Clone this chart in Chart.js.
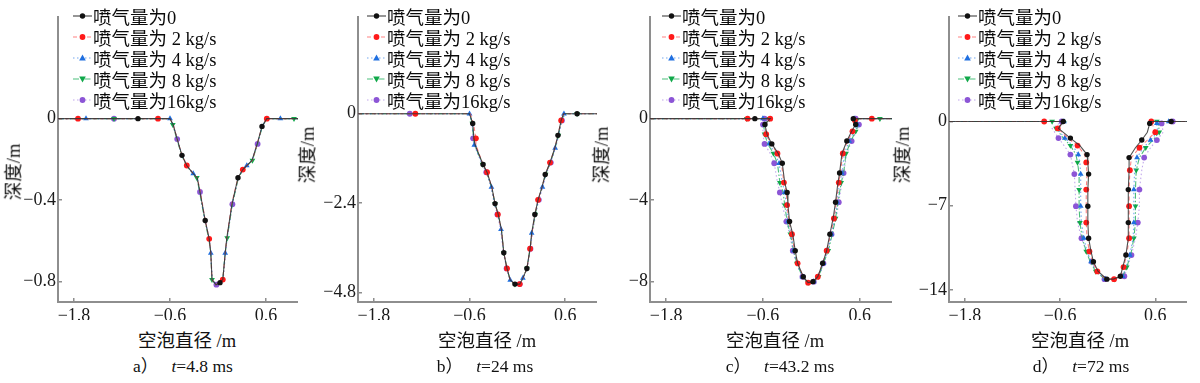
<!DOCTYPE html>
<html><head><meta charset="utf-8">
<script src="https://cdn.jsdelivr.net/npm/chart.js@4.4.1/dist/chart.umd.min.js"></script>
<style>
html,body{margin:0;padding:0;background:#fff;}
#wrap{position:relative;width:1200px;height:383px;overflow:hidden;background:#fff;}
canvas{position:absolute;top:0;}
.t{position:absolute;white-space:nowrap;font-family:'Liberation Serif','Noto Sans CJK SC',serif;color:#111;line-height:1;}
.leg{position:absolute;top:6px;font-family:'Liberation Serif','Noto Sans CJK SC',serif;font-size:18.5px;color:#0a0a0a;}
.leg .row{height:20.8px;display:flex;align-items:center;white-space:nowrap;}
.leg svg{margin-right:1px;flex:none;}
</style></head><body><div id="wrap"></div>
<script>
// ---------- data ----------
const seriesNames = ['喷气量为0','喷气量为 2 kg/s','喷气量为 4 kg/s','喷气量为 8 kg/s','喷气量为16kg/s'];
const xTicks = [-1.8, -0.6, 0.6];
const yTicksA = [0, -0.4, -0.8];
const yTicksB = [0, -2.4, -4.8];
const yTicksC = [0, -4, -8];
const yTicksD = [0, -7, -14];
const captionLetters = ['a）', 'b）', 'c）', 'd）'];
const captionTimes = ['4.8 ms', '24 ms', '43.2 ms', '72 ms'];
const yTitle = '深度/m';
const xTitle = '空泡直径 /m';

// panel a  (t = 4.8 ms)
const depthA = [0,0,0,0,0,0,0,0,-0.03,-0.10,-0.18,-0.23,-0.27,-0.29,-0.36,-0.50,-0.59,-0.66,-0.79,-0.815,-0.805,-0.79,-0.66,-0.585,-0.42,-0.29,-0.25,-0.23,-0.205,-0.124,-0.038,0,0,0,0];
const xA_0  = [-2.0,-1.8,-1.6,-1.4,-1.2,-1.0,-0.8,-0.6,-0.56,-0.51,-0.45,-0.39,-0.31,-0.26,-0.225,-0.16,-0.11,-0.09,-0.075,-0.025,0.025,0.06,0.09,0.11,0.175,0.25,0.31,0.36,0.425,0.49,0.55,0.61,0.75,0.9,1.0];
const xA_2  = [-2.0,-1.75,-1.55,-1.35,-1.15,-0.95,-0.75,-0.6,-0.56,-0.51,-0.45,-0.39,-0.31,-0.26,-0.22,-0.16,-0.11,-0.09,-0.075,-0.03,0.02,0.06,0.09,0.11,0.17,0.25,0.31,0.36,0.43,0.49,0.55,0.61,0.72,0.87,1.0];
const xA_4  = [-2.0,-1.85,-1.65,-1.45,-1.25,-1.05,-0.85,-0.6,-0.565,-0.51,-0.45,-0.39,-0.31,-0.26,-0.225,-0.165,-0.11,-0.09,-0.075,-0.025,0.025,0.06,0.09,0.115,0.175,0.25,0.31,0.36,0.425,0.49,0.55,0.61,0.78,0.93,1.0];
const xA_8  = [-2.0,-1.7,-1.5,-1.3,-1.1,-0.9,-0.7,-0.6,-0.565,-0.515,-0.455,-0.395,-0.315,-0.265,-0.23,-0.165,-0.115,-0.09,-0.075,-0.025,0.025,0.06,0.09,0.115,0.18,0.255,0.315,0.365,0.43,0.495,0.555,0.61,0.8,0.95,1.0];
const xA_16 = [-2.0,-1.9,-1.7,-1.5,-1.3,-1.1,-0.9,-0.6,-0.56,-0.51,-0.45,-0.39,-0.31,-0.26,-0.225,-0.16,-0.11,-0.09,-0.07,-0.02,0.03,0.065,0.095,0.115,0.18,0.255,0.315,0.365,0.43,0.495,0.555,0.61,0.85,0.96,1.0];

// panel b  (t = 24 ms)
const depthB = [0,0,0,-0.26,-0.66,-0.84,-1.36,-1.57,-1.97,-2.41,-2.7,-3.1,-3.73,-4.15,-4.46,-4.57,-4.57,-4.41,-4.15,-3.62,-3.2,-2.7,-2.31,-1.97,-1.63,-1.31,-0.92,-0.58,-0.18,0,0,0];
const xB_0  = [-2.0,-1.3,-0.6,-0.56,-0.545,-0.53,-0.43,-0.38,-0.32,-0.28,-0.24,-0.2,-0.17,-0.13,-0.09,-0.03,0.03,0.07,0.12,0.16,0.18,0.22,0.26,0.31,0.35,0.41,0.47,0.51,0.55,0.58,0.75,1.0];
const xB_2  = [-2.0,-1.28,-0.59,-0.55,-0.52,-0.52,-0.43,-0.38,-0.32,-0.28,-0.245,-0.2,-0.17,-0.13,-0.09,-0.03,0.03,0.07,0.12,0.16,0.185,0.22,0.26,0.31,0.35,0.41,0.47,0.51,0.55,0.58,0.75,1.0];
const xB_4  = [-2.0,-1.32,-0.6,-0.565,-0.55,-0.54,-0.44,-0.385,-0.325,-0.285,-0.245,-0.205,-0.17,-0.13,-0.09,-0.03,0.03,0.07,0.12,0.16,0.18,0.225,0.265,0.315,0.355,0.415,0.475,0.515,0.555,0.585,0.75,1.0];
const xB_8  = [-2.0,-1.25,-0.6,-0.565,-0.55,-0.535,-0.435,-0.385,-0.325,-0.28,-0.24,-0.2,-0.17,-0.13,-0.09,-0.03,0.03,0.07,0.12,0.16,0.185,0.225,0.265,0.31,0.355,0.415,0.475,0.515,0.555,0.6,0.75,1.0];
const xB_16 = [-2.0,-1.35,-0.6,-0.57,-0.555,-0.54,-0.44,-0.39,-0.33,-0.29,-0.25,-0.21,-0.175,-0.135,-0.09,-0.03,0.03,0.07,0.125,0.165,0.19,0.23,0.27,0.32,0.36,0.42,0.48,0.52,0.56,0.6,0.75,1.0];

// panel c  (t = 43.2 ms)
const depthC = [0,0,0,0,-0.29,-0.76,-1.24,-1.71,-2.19,-3.14,-3.62,-4.24,-5.05,-5.67,-6.48,-7.1,-7.76,-8.05,-8.0,-7.76,-7.1,-6.48,-5.67,-4.9,-4.1,-3.14,-2.67,-1.71,-1.1,-0.62,-0.29,-0.08,0,0,0];
const xC_0  = [-2.0,-0.85,-0.7,-0.51,-0.575,-0.55,-0.49,-0.41,-0.36,-0.33,-0.30,-0.29,-0.27,-0.23,-0.20,-0.17,-0.10,-0.04,0.02,0.08,0.14,0.19,0.23,0.27,0.30,0.33,0.35,0.38,0.44,0.50,0.55,0.53,0.52,0.75,1.0];
const xC_2  = [-2.0,-0.79,-0.65,-0.51,-0.575,-0.56,-0.50,-0.42,-0.37,-0.34,-0.31,-0.30,-0.28,-0.24,-0.21,-0.17,-0.10,-0.04,0.02,0.08,0.14,0.19,0.24,0.28,0.31,0.34,0.36,0.39,0.45,0.51,0.55,0.54,0.52,0.75,1.0];
const xC_4  = [-2.0,-0.72,-0.6,-0.52,-0.58,-0.57,-0.52,-0.45,-0.40,-0.36,-0.33,-0.31,-0.29,-0.25,-0.22,-0.18,-0.11,-0.04,0.03,0.09,0.15,0.20,0.25,0.29,0.32,0.35,0.38,0.41,0.47,0.53,0.57,0.55,0.53,0.85,1.0];
const xC_8  = [-2.0,-0.8,-0.62,-0.52,-0.59,-0.58,-0.54,-0.47,-0.42,-0.39,-0.35,-0.33,-0.30,-0.26,-0.22,-0.18,-0.11,-0.04,0.03,0.09,0.15,0.21,0.26,0.30,0.33,0.37,0.40,0.43,0.49,0.55,0.58,0.56,0.54,0.85,1.0];
const xC_16 = [-2.0,-0.67,-0.58,-0.53,-0.60,-0.60,-0.58,-0.51,-0.46,-0.42,-0.39,-0.36,-0.31,-0.27,-0.23,-0.19,-0.11,-0.05,0.03,0.09,0.15,0.20,0.25,0.31,0.34,0.38,0.40,0.44,0.50,0.56,0.59,0.57,0.55,0.80,1.0];

// panel d  (t = 72 ms)
const depthD = [0,0,0,-0.57,-1.38,-2.0,-2.75,-3.4,-4.37,-5.66,-7.04,-8.4,-9.7,-10.8,-11.65,-12.46,-13.1,-13.1,-12.86,-12.1,-11.1,-9.7,-8.4,-7.04,-5.66,-4.05,-3.0,-2.18,-1.54,-0.89,-0.16,0,0,0];
const xD_0  = [-2.0,-0.85,-0.56,-0.62,-0.47,-0.35,-0.26,-0.25,-0.24,-0.25,-0.25,-0.25,-0.24,-0.21,-0.18,-0.12,-0.01,0.07,0.16,0.19,0.23,0.26,0.26,0.26,0.26,0.27,0.27,0.35,0.43,0.50,0.53,0.52,0.8,1.0];
const xD_2  = [-2.0,-0.8,-0.55,-0.63,-0.50,-0.38,-0.29,-0.27,-0.26,-0.27,-0.27,-0.27,-0.26,-0.23,-0.19,-0.13,-0.02,0.08,0.17,0.20,0.24,0.27,0.27,0.27,0.27,0.28,0.30,0.40,0.50,0.60,0.56,0.55,0.85,1.0];
const xD_4  = [-2.0,-0.75,-0.55,-0.64,-0.54,-0.44,-0.37,-0.35,-0.34,-0.34,-0.34,-0.33,-0.30,-0.26,-0.21,-0.14,-0.03,0.09,0.19,0.23,0.28,0.32,0.33,0.33,0.33,0.34,0.37,0.45,0.54,0.63,0.62,0.60,0.77,1.0];
const xD_8  = [-2.0,-0.7,-0.53,-0.65,-0.56,-0.47,-0.40,-0.38,-0.36,-0.36,-0.36,-0.35,-0.32,-0.27,-0.22,-0.15,-0.03,0.09,0.19,0.24,0.29,0.33,0.35,0.35,0.35,0.36,0.40,0.48,0.57,0.65,0.64,0.62,0.9,1.0];
const xD_16 = [-2.0,-0.9,-0.58,-0.70,-0.62,-0.55,-0.47,-0.45,-0.42,-0.41,-0.40,-0.38,-0.33,-0.27,-0.20,-0.14,-0.04,0.10,0.21,0.25,0.30,0.35,0.38,0.40,0.40,0.43,0.46,0.54,0.62,0.70,0.68,0.66,0.82,1.0];

// ---------- styles & layout ----------
const styles = [
  {mark:'#111111', line:'rgba(50,50,50,0.85)',   dash:[],            shape:'circle',   rot:0,   r:2.7},
  {mark:'#ff1a1a', line:'rgba(255,90,90,0.75)',  dash:[4,3],         shape:'circle',   rot:0,   r:2.9},
  {mark:'#1f6fe0', line:'rgba(70,140,235,0.75)', dash:[1.5,2.5],     shape:'triangle', rot:0,   r:3.3},
  {mark:'#10a84a', line:'rgba(30,175,90,0.8)',   dash:[6,2,1.5,2],   shape:'triangle', rot:180, r:3.3},
  {mark:'#8c55d6', line:'rgba(160,120,225,0.65)',dash:[1.5,2.5],     shape:'circle',   rot:0,   r:2.9}
];

const panels = [
  {canvasLeft:0,   axisX:58,  right:298,  depth:depthA, xs:[xA_0,xA_2,xA_4,xA_8,xA_16], yMin:-0.9,  yMax:0.5,  yTicks:yTicksA, step:5,
   legendLeft:73, yTitleX:14, yTitleY:172, xTitleX:187, capX:183},
  {canvasLeft:294, axisX:358, right:597,  depth:depthB, xs:[xB_0,xB_2,xB_4,xB_8,xB_16], yMin:-5.05, yMax:2.6,  yTicks:yTicksB, step:3,
   legendLeft:367, yTitleX:308, yTitleY:155, xTitleX:487, capX:485},
  {canvasLeft:588, axisX:650, right:892,  depth:depthC, xs:[xC_0,xC_2,xC_4,xC_8,xC_16], yMin:-9,    yMax:5,    yTicks:yTicksC, step:2,
   legendLeft:662, yTitleX:602, yTitleY:155, xTitleX:775, capX:780},
  {canvasLeft:889, axisX:949, right:1187, depth:depthD, xs:[xD_0,xD_2,xD_4,xD_8,xD_16], yMin:-15,   yMax:8.7,  yTicks:yTicksD, step:2,
   legendLeft:958, yTitleX:903, yTitleY:155, xTitleX:1080, capX:1081}
];

const wrap = document.getElementById('wrap');
const fmt = v => (v < 0 ? '\u2212' + Math.abs(v) : String(v));
const tickFont = {family:"'Liberation Serif', serif", size:18};
const axisGrey = '#8e8e8e';

function addText(html, cls, css) {
  const d = document.createElement('div');
  d.className = cls; d.innerHTML = html;
  Object.assign(d.style, css);
  wrap.appendChild(d);
  return d;
}

function legendSvg(s) {
  const dash = s.dash.length ? `stroke-dasharray="${s.dash.join(' ')}"` : '';
  let m;
  if (s.shape === 'circle') m = `<circle cx="9.5" cy="5" r="${s.r}" fill="${s.mark}"/>`;
  else if (s.rot === 0) m = `<polygon points="9.5,1.6 12.8,7.4 6.2,7.4" fill="${s.mark}"/>`;
  else m = `<polygon points="9.5,8.4 12.8,2.6 6.2,2.6" fill="${s.mark}"/>`;
  return `<svg width="19" height="10"><line x1="0" y1="5" x2="19" y2="5" stroke="${s.line}" stroke-width="1.2" ${dash}/>${m}</svg>`;
}

panels.forEach((p, pi) => {
  const cv = document.createElement('canvas');
  const W = p.right - p.canvasLeft, H = 320;
  cv.width = W; cv.height = H;
  cv.style.left = p.canvasLeft + 'px';
  cv.style.width = W + 'px'; cv.style.height = H + 'px';
  wrap.appendChild(cv);

  const datasets = p.xs.map((xs, k) => {
    const s = styles[k];
    const n = xs.length;
    const phase = k % p.step;
    return {
      label: seriesNames[k],
      data: xs.map((x, i) => ({x: x, y: p.depth[i]})),
      showLine: true,
      borderColor: s.line,
      borderWidth: 1.1,
      borderDash: s.dash,
      backgroundColor: s.mark,
      pointBackgroundColor: s.mark,
      pointBorderColor: s.mark,
      pointBorderWidth: 0,
      pointStyle: s.shape,
      rotation: s.rot,
      pointRadius: ctx => {
        const i = ctx.dataIndex;
        if (i === 0 || i === n - 1) return 0;
        return ((i - phase) % p.step === 0) ? s.r : 0;
      },
      pointHoverRadius: 0,
      tension: 0,
      order: k
    };
  });

  new Chart(cv, {
    type: 'scatter',
    data: {datasets},
    options: {
      responsive: false,
      animation: false,
      devicePixelRatio: 1,
      layout: {padding: {top: 10, right: 0, left: 0, bottom: 0}},
      plugins: {legend: {display: false}, tooltip: {enabled: false}},
      scales: {
        x: {
          type: 'linear', min: -2.0, max: 1.0,
          afterBuildTicks: sc => { sc.ticks = xTicks.map(v => ({value: v})); },
          afterFit: sc => { sc.height = 18; },
          ticks: {callback: fmt, font: tickFont, color: '#1a1a1a', padding: 7, maxRotation: 0, autoSkip: false},
          grid: {display: true, drawOnChartArea: false, drawTicks: true, tickLength: -4, color: axisGrey, lineWidth: 1.5},
          border: {display: true, color: axisGrey, width: 2}
        },
        y: {
          type: 'linear', min: p.yMin, max: p.yMax,
          afterBuildTicks: sc => { sc.ticks = p.yTicks.map(v => ({value: v})); },
          afterFit: sc => { sc.width = p.axisX - p.canvasLeft; },
          ticks: {callback: fmt, font: tickFont, color: '#1a1a1a', padding: 6, autoSkip: false},
          grid: {display: true, drawOnChartArea: false, drawTicks: true, tickLength: -4, color: axisGrey, lineWidth: 1.5},
          border: {display: true, color: axisGrey, width: 2}
        }
      }
    }
  });

  // legend (inside plot, top-left)
  const leg = document.createElement('div');
  leg.className = 'leg';
  leg.style.left = p.legendLeft + 'px';
  leg.innerHTML = seriesNames.map((nm, k) => `<div class="row">${legendSvg(styles[k])}<span>${nm}</span></div>`).join('');
  wrap.appendChild(leg);

  // y title (rotated)
  addText(yTitle, 't', {left: p.yTitleX + 'px', top: p.yTitleY + 'px', fontSize: '18.5px',
    transform: 'translate(-50%,-50%) rotate(-90deg)'});
  // x title
  addText(xTitle, 't', {left: p.xTitleX + 'px', top: '341px', fontSize: '18.5px', transform: 'translate(-50%,-50%)'});
  // caption
  addText(`${captionLetters[pi]}&nbsp;&nbsp;&nbsp;<i>t</i>=${captionTimes[pi]}`, 't',
    {left: p.capX + 'px', top: '367px', fontSize: '17.5px', transform: 'translate(-50%,-50%)'});
});
</script>
</body></html>
